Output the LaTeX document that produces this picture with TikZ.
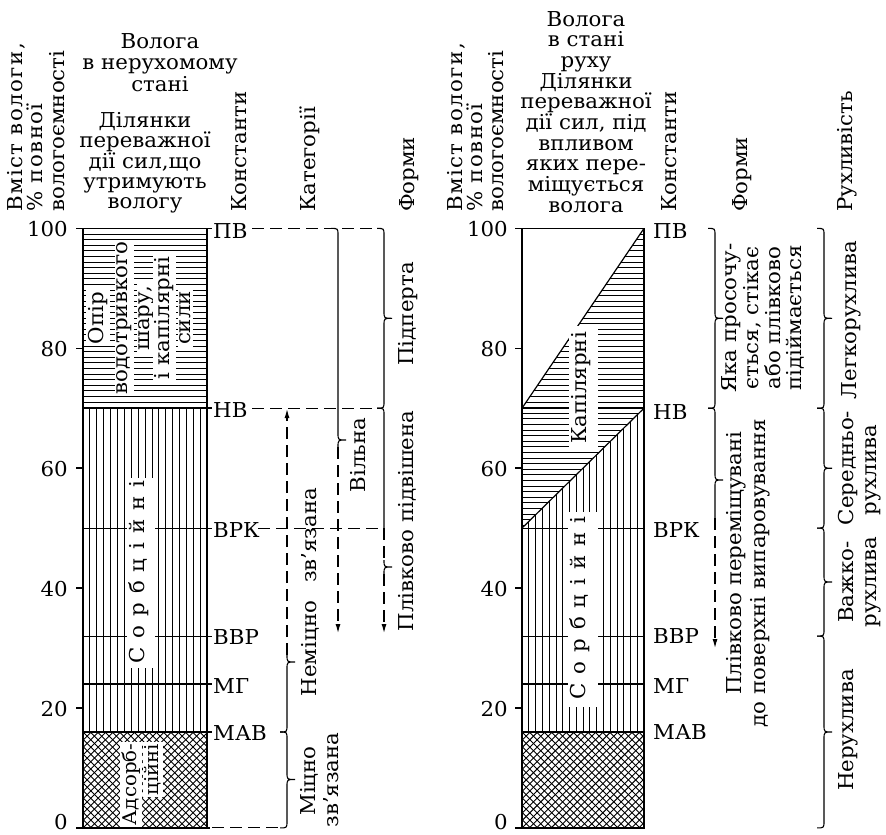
\documentclass[tikz,border=0pt]{standalone}
\usepackage{fontspec}
\setmainfont{DejaVu Serif}[FakeStretch=1.04]
\usetikzlibrary{arrows.meta}
\newcommand\fsz{\fontsize{20.5bp}{21bp}\selectfont}
\newcommand\lsp{\hspace{9bp}}
\newcommand\wide{\addfontfeature{LetterSpace=7}}
% right-pointing curly brace: #1 options, #2 x, #3 top, #4 tip, #5 bottom
\newcommand\mybrace[5][]{%
  \draw[brc,#1] (#2-7,#3) .. controls (#2,#3) .. (#2,#3+7) -- (#2,#4-7)
    .. controls (#2,#4) .. (#2+8,#4) .. controls (#2,#4) .. (#2,#4+7)
    -- (#2,#5-7) .. controls (#2,#5) .. (#2-7,#5);}
\begin{document}
\begin{tikzpicture}[x=1bp,y=-1bp,
  every node/.style={font=\fsz, inner sep=0pt},
  frame/.style={line width=1.6bp},
  hatch/.style={line width=0.8bp},
  xhatch/.style={line width=0.9bp},
  lvl/.style={line width=1.2bp},
  dsh/.style={line width=1.1bp, dash pattern=on 12bp off 6bp},
  brc/.style={line width=1.1bp},
  arr/.style={-{Latex[length=9bp,width=5bp]}},
  rot/.style={rotate=90, anchor=mid},
  hdr/.style={rotate=90, anchor=mid west},
  wbg/.style={fill=white, inner sep=2bp},
]
\useasboundingbox (0,0) rectangle (886,835);

% ================= LEFT COLUMN =================
\foreach \k in {1,...,31} \draw[hatch] (83,228.4+5.6*\k) -- (207,228.4+5.6*\k);
\foreach \k in {1,...,17} \draw[hatch] (83+6.89*\k,408.2) -- (83+6.89*\k,732);
\begin{scope}
  \clip (83,732) rectangle (207,827.9);
  \foreach \k in {-14,...,17} {
    \draw[xhatch] (83+7.3*\k,827.9) -- ++(96,-96);
    \draw[xhatch] (83+7.3*\k,732) -- ++(96,96);
  }
\end{scope}
\draw[lvl] (83,528.1) -- (212,528.1);
\draw[lvl] (83,636.1) -- (212,636.1);
\draw[lvl] (83,684) -- (212,684);
\draw[frame] (83,408.2) -- (212,408.2);
\draw[frame] (83,732) -- (212,732);
\draw[frame] (83,228.4) rectangle (207,827.9);
\draw[frame] (76,228.4) -- (212,228.4);
\draw[frame] (76,827.9) -- (210,827.9);
\foreach \y in {348.3,468.2,588.1,708} \draw[frame] (76,\y) -- (83,\y);

\node[rot,wbg] (t1) at (101,318) {Опір};
\node[rot,wbg] (t2) at (125,318) {водотривкого};
\node[rot,wbg] (t3) at (147,318) {шару,};
\node[rot,wbg] (t4) at (167,318) {і капілярні};
\node[rot,wbg] (t5) at (188,318) {сили};
\fill[white] (127,478) rectangle (155,668);
\node[rot] (sorbL) at (142,572) {С\lsp о\lsp р\lsp б\lsp ц\lsp і\lsp й\lsp н\lsp і};
\node[rotate=90,anchor=mid east,fill=white,inner sep=1.5bp,font=\fontsize{19bp}{20bp}\selectfont] (ads1) at (134,742) {Адсорб-};
\node[rotate=90,anchor=mid east,fill=white,inner sep=1.5bp,font=\fontsize{19bp}{20bp}\selectfont] (ads2) at (156,742) {ційні};

\node[anchor=east] (l100) at (68,229.5) {100};
\node[anchor=east] (l80) at (68,349) {80};
\node[anchor=east] (l60) at (68,469) {60};
\node[anchor=east] (l40) at (68,589) {40};
\node[anchor=east] (l20) at (68,709) {20};
\node[anchor=east] (l0) at (68,822) {0};

\node[anchor=west] (cPV) at (213,231) {ПВ};
\node[anchor=west] (cNV) at (213,410.5) {НВ};
\node[anchor=west] (cVRK) at (213,530.5) {ВРК};
\node[anchor=west] (cVVR) at (213,637) {ВВР};
\node[anchor=west] (cMG) at (213,686) {МГ};
\node[anchor=west] (cMAV) at (213,733) {МАВ};

\draw[dsh] (252,228.4) -- (377,228.4);
\draw[dsh] (252,408.2) -- (377,408.2);
\draw[dsh] (258,528.1) -- (384,528.1);
\draw[dsh] (212,827.9) -- (280,827.9);

\mybrace{287}{732}{779.5}{827.9}
\draw[brc] (280,732) .. controls (287,732) .. (287,725) -- (287,669)
   .. controls (287,662) .. (295,662) .. controls (287,662) .. (287,655);
\draw[dsh,arr] (287,655) -- (287,409);
\mybrace{384}{228.4}{318.3}{408.2}
\draw[brc] (331,228.4) .. controls (338,228.4) .. (338,235.4) -- (338,433)
   .. controls (338,440) .. (346,440) .. controls (338,440) .. (338,447);
\draw[dsh,arr] (338,447) -- (338,633);
\draw[brc] (377,408.2) .. controls (384,408.2) .. (384,415.2) -- (384,528.1);
\draw[dsh] (384,528.1) -- (384,560);
\draw[brc] (384,560) .. controls (384,567) .. (392,567) .. controls (384,567) .. (384,574);
\draw[dsh,arr] (384,574) -- (384,633);

\node[rot] (kPid) at (411,314) {Підперта};
\node[rot] (kPliv) at (411,521) {Плівково підвішена};
\node[rot] (kVil) at (363,455) {Вільна};
\node[rot] (kNem) at (314,592) {Неміцно\hspace{18bp}зв’язана};
\node[rot] (kMic1) at (313,781) {Міцно};
\node[rot] (kMic2) at (336,780) {зв’язана};

\node[anchor=base] (h1a) at (160,48) {Волога};
\node[anchor=base] (h1b) at (160,69.5) {в нерухомому};
\node[anchor=base] (h1c) at (160,91) {стані};
\node[anchor=base] (h2a) at (145,127.6) {Ділянки};
\node[anchor=base] (h2b) at (145,147.9) {переважної};
\node[anchor=base] (h2c) at (145,168.2) {дії сил,що};
\node[anchor=base] (h2d) at (145,188.5) {утримують};
\node[anchor=base] (h2e) at (145,208.8) {вологу};
\node[hdr] (vL1) at (20,212) {\wide Вміст вологи,};
\node[hdr] (vL2) at (40,212) {\wide\% повної};
\node[hdr] (vL3) at (62,212) {вологоємності};
\node[hdr] (vL4) at (244,212) {Константи};
\node[hdr] (vL5) at (313,212) {Категорії};
\node[hdr] (vL6) at (412,212) {Форми};

% ================= RIGHT COLUMN =================
\begin{scope}
  \clip (522,408.2) -- (644,228.4) -- (644,408.2) -- (522,528.1) -- cycle;
  \foreach \k in {1,...,53} \draw[hatch] (522,228.4+5.6*\k) -- (644,228.4+5.6*\k);
\end{scope}
\begin{scope}
  \clip (522,528.1) -- (644,408.2) -- (644,732) -- (522,732) -- cycle;
  \foreach \k in {1,...,17} \draw[hatch] (522+6.78*\k,408) -- (522+6.78*\k,732);
\end{scope}
\begin{scope}
  \clip (522,732) rectangle (644,827.9);
  \foreach \k in {-14,...,17} {
    \draw[xhatch] (522+7.3*\k,827.9) -- ++(96,-96);
    \draw[xhatch] (522+7.3*\k,732) -- ++(96,96);
  }
\end{scope}
\draw[lvl] (522,408.2) -- (644,228.4);
\draw[lvl] (522,528.1) -- (644,408.2);
\draw[lvl] (522,408.2) -- (644,408.2);
\draw[lvl] (522,528.1) -- (644,528.1);
\draw[lvl] (522,636.1) -- (644,636.1);
\draw[lvl] (522,684) -- (644,684);
\draw[frame] (522,732) -- (644,732);
\draw[frame] (522,228.4) rectangle (644,827.9);
\foreach \y in {228.4,348.3,468.2,588.1,708,827.9} \draw[frame] (515,\y) -- (522,\y);

\fill[white] (569,326) rectangle (598,449);
\node[rot] (kap) at (584,388) {Капілярні};
\fill[white] (568,512) rectangle (598,707);
\node[rot] (sorbR) at (583,608) {С\lsp о\lsp р\lsp б\lsp ц\lsp і\lsp й\lsp н\lsp і};

\node[anchor=east] (r100) at (508,229.5) {100};
\node[anchor=east] (r80) at (508,349) {80};
\node[anchor=east] (r60) at (508,469) {60};
\node[anchor=east] (r40) at (508,589) {40};
\node[anchor=east] (r20) at (508,709) {20};
\node[anchor=east] (r0) at (508,822) {0};

\node[anchor=west] (dPV) at (653,231.5) {ПВ};
\node[anchor=west] (dNV) at (653,412) {НВ};
\node[anchor=west] (dVRK) at (653,530.5) {ВРК};
\node[anchor=west] (dVVR) at (653,636.5) {ВВР};
\node[anchor=west] (dMG) at (653,686) {МГ};
\node[anchor=west] (dMAV) at (653,732) {МАВ};

\mybrace{715}{228.4}{318.3}{408.2}
\draw[brc] (708,408.2) .. controls (715,408.2) .. (715,415.2) -- (715,473)
   .. controls (715,480) .. (723,480) .. controls (715,480) .. (715,487) -- (715,518);
\draw[dsh,arr] (715,518) -- (715,648);
\node[rot] (f1) at (734,318) {Яка просочу-};
\node[rot] (f2) at (756,318) {ється, стікає};
\node[rot] (f3) at (778,318) {або плівково};
\node[rot] (f4) at (799,318) {підіймається};
\node[rot] (f5) at (739,563) {Плівково переміщувані};
\node[rot] (f6) at (763,573) {до поверхні випаровування};

\mybrace{824}{228.4}{318.3}{408.2}
\mybrace{824}{408.2}{468.2}{528.1}
\mybrace{824}{528.1}{582}{636.1}
\mybrace{824}{636.1}{732}{827.9}
\node[rot] (m1) at (854,320) {Легкорухлива};
\node[rot] (m2) at (851,468) {Середньо-};
\node[rot] (m3) at (874,470) {рухлива};
\node[rot] (m4) at (851,582) {Важко-};
\node[rot] (m5) at (874,582) {рухлива};
\node[rot] (m6) at (851,730) {Нерухлива};

\foreach \t [count=\i from 0] in {Волога,в стані,руху,Ділянки,переважної,{дії сил, під},впливом,яких пере-,міщується,волога}
  \node[anchor=base] (hr\i) at (586,26+20.67*\i) {\t};
\node[hdr] (vR1) at (460,212) {\wide Вміст вологи,};
\node[hdr] (vR2) at (480,212) {\wide\% повної};
\node[hdr] (vR3) at (501,212) {вологоємності};
\node[hdr] (vR4) at (674,212) {Константи};
\node[hdr] (vR5) at (745,212) {Форми};
\node[hdr] (vR6) at (850,212) {Рухливість};
\end{tikzpicture}
\end{document}
